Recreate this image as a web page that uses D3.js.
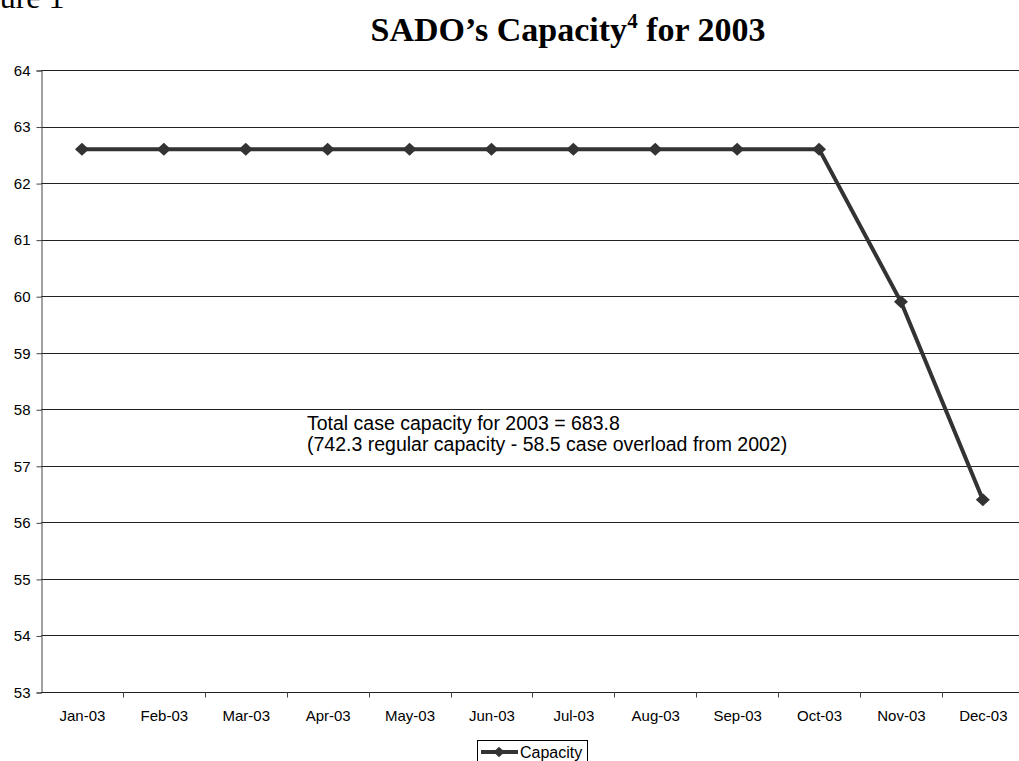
<!DOCTYPE html>
<html>
<head>
<meta charset="utf-8">
<script src="https://cdn.jsdelivr.net/npm/d3@7"></script>
<style>
  html, body { margin: 0; padding: 0; background: #fff; overflow: hidden; }
  svg { display: block; }
</style>
</head>
<body>
<script>
// Monthly capacity for 2003
const months = ["Jan-03", "Feb-03", "Mar-03", "Apr-03", "May-03", "Jun-03",
                "Jul-03", "Aug-03", "Sep-03", "Oct-03", "Nov-03", "Dec-03"];
const capacity = [62.6, 62.6, 62.6, 62.6, 62.6, 62.6, 62.6, 62.6, 62.6, 62.6, 59.9, 56.4];
const yTicks = [53, 54, 55, 56, 57, 58, 59, 60, 61, 62, 63, 64];
const noteLines = ["Total case capacity for 2003 = 683.8",
                   "(742.3 regular capacity - 58.5 case overload from 2002)"];
const seriesName = "Capacity";

const W = 1019, H = 761;
const plotLeft = 41, plotTop = 70, plotBottom = 692;
const step = 81.9;
const plotRight = plotLeft + step * months.length;
const sans = "'Liberation Sans', Arial, sans-serif";
const serif = "'Liberation Serif', 'Times New Roman', serif";

const svg = d3.select("body").append("svg").attr("width", W).attr("height", H);

const x = d3.scaleBand().domain(months).range([plotLeft, plotRight]).paddingInner(0).paddingOuter(0);
const y = d3.scaleLinear().domain([53, 64]).range([plotBottom, plotTop]);

// Page caption, running off the top edge
svg.append("text")
  .attr("x", -43).attr("y", 8)
  .style("font-family", serif)
  .style("font-size", "32px")
  .text("Figure 1");

// Title
const title = svg.append("text")
  .attr("x", 568).attr("y", 41)
  .attr("text-anchor", "middle")
  .style("font-family", serif)
  .style("font-weight", "bold")
  .style("font-size", "34px");
title.append("tspan").text("SADO\u2019s Capacity");
title.append("tspan").attr("dy", -13).style("font-size", "21px").text("4");
title.append("tspan").attr("dy", 13).text(" for 2003");

// Horizontal gridlines
svg.append("g")
  .selectAll("line")
  .data(yTicks)
  .join("line")
  .attr("x1", plotLeft).attr("x2", plotRight)
  .attr("y1", d => Math.round(y(d)) + 0.5).attr("y2", d => Math.round(y(d)) + 0.5)
  .attr("stroke", "#222").attr("stroke-width", 1);

// Y axis
const yAxis = d3.axisLeft(y).tickValues(yTicks).tickSize(5).tickPadding(6).tickFormat(d3.format("d"));
const yg = svg.append("g").attr("transform", `translate(${plotLeft + 0.5},0.5)`).call(yAxis);
yg.attr("font-family", sans).attr("font-size", 15);
yg.select(".domain").attr("stroke", "#444");
yg.selectAll(".tick line").attr("stroke", "#444");
yg.selectAll("text").attr("fill", "#000");

// X axis with ticks between categories
const xg = svg.append("g").attr("transform", `translate(0.5,${Math.round(y(53)) + 0.5})`);
xg.append("line").attr("x1", plotLeft).attr("x2", plotRight).attr("stroke", "#222");
xg.selectAll(".xtick")
  .data(months)
  .join("line")
  .attr("class", "xtick")
  .attr("x1", d => Math.round(x(d) + x.bandwidth()))
  .attr("x2", d => Math.round(x(d) + x.bandwidth()))
  .attr("y1", 0).attr("y2", 5)
  .attr("stroke", "#444");
xg.selectAll(".xlabel")
  .data(months)
  .join("text")
  .attr("class", "xlabel")
  .attr("x", d => x(d) + x.bandwidth() / 2)
  .attr("y", 28)
  .attr("text-anchor", "middle")
  .style("font-family", sans)
  .style("font-size", "15px")
  .text(d => d);

// Capacity line
const cx = d => x(d) + x.bandwidth() / 2;
const line = d3.line().x((d, i) => cx(months[i])).y(d => y(d));
svg.append("path")
  .datum(capacity)
  .attr("d", line)
  .attr("fill", "none")
  .attr("stroke", "#333")
  .attr("stroke-width", 4)
  .attr("stroke-linejoin", "round");

// Near-square diamond marker (half-width 7, half-height 6.5 at size 1)
const squareDiamond = {
  draw(ctx, size) {
    const w = 7 * size, h = 6.5 * size;
    ctx.moveTo(0, -h);
    ctx.lineTo(w, 0);
    ctx.lineTo(0, h);
    ctx.lineTo(-w, 0);
    ctx.closePath();
  }
};
const marker = d3.symbol().type(squareDiamond).size(1);
svg.append("g")
  .selectAll("path")
  .data(capacity)
  .join("path")
  .attr("d", marker)
  .attr("transform", (d, i) => `translate(${cx(months[i])},${y(d)})`)
  .attr("fill", "#333");

// Annotation
svg.append("g")
  .selectAll("text")
  .data(noteLines)
  .join("text")
  .attr("x", 307)
  .attr("y", (d, i) => 430 + i * 21)
  .style("font-family", sans)
  .style("font-size", "19.5px")
  .text(d => d);

// Legend
const lg = svg.append("g").attr("transform", "translate(477,740)");
lg.append("rect").attr("x", 0.5).attr("y", 0.5).attr("width", 110).attr("height", 30)
  .attr("fill", "#fff").attr("stroke", "#000");
lg.append("line").attr("x1", 4).attr("x2", 41).attr("y1", 12).attr("y2", 12)
  .attr("stroke", "#333").attr("stroke-width", 4);
lg.append("path").attr("d", d3.symbol().type(squareDiamond).size(0.8))
  .attr("transform", "translate(22,12)").attr("fill", "#333");
lg.append("text").attr("x", 43).attr("y", 18)
  .style("font-family", sans)
  .style("font-size", "16px")
  .text(seriesName);
</script>
</body>
</html>
